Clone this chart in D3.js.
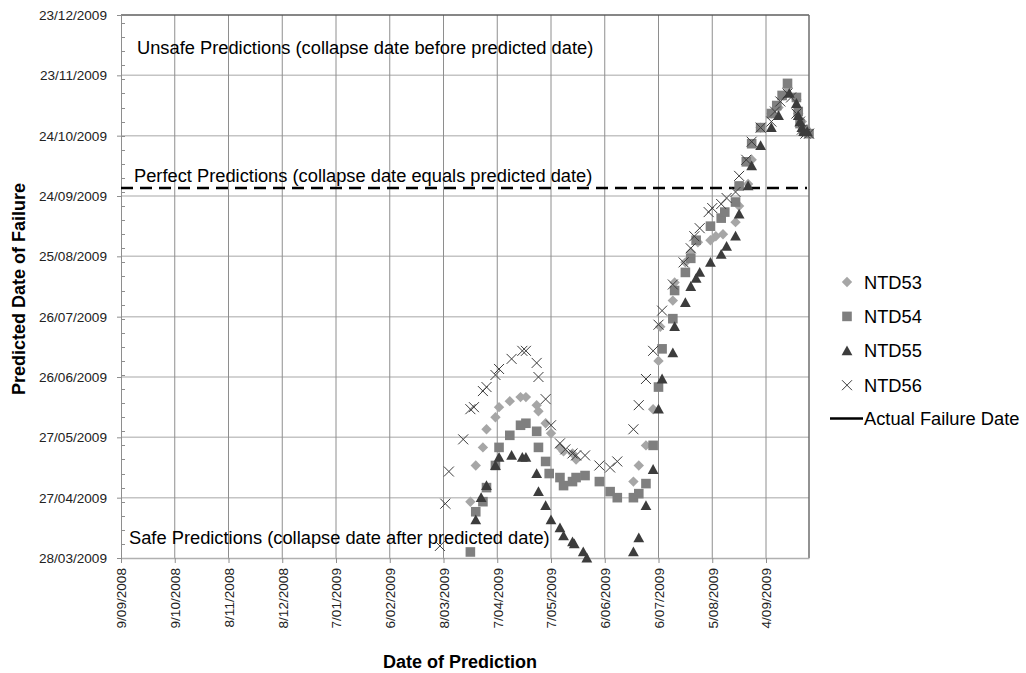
<!DOCTYPE html>
<html>
<head>
<meta charset="utf-8">
<script src="https://cdn.jsdelivr.net/npm/d3@7"></script>
<style>
  body { margin: 0; background: #fff; }
  text { font-family: "Liberation Sans", Arial, sans-serif; }
</style>
</head>
<body>
<svg id="chart" width="1026" height="673"></svg>
<script>
// Axis tick labels (Excel-style date axis, 30-day major unit)
const xTickLabels = ["9/09/2008","9/10/2008","8/11/2008","8/12/2008","7/01/2009","6/02/2009",
  "8/03/2009","7/04/2009","7/05/2009","6/06/2009","6/07/2009","5/08/2009","4/09/2009"];
const yTickLabels = ["28/03/2009","27/04/2009","27/05/2009","26/06/2009","26/07/2009",
  "25/08/2009","24/09/2009","24/10/2009","23/11/2009","23/12/2009"];
const xAxisEnd = "28/09/2009";
const actualFailureDate = "28/09/2009";

// [date of prediction, predicted date of failure]
const ntd53 = [
  ["2009-03-23","2009-04-25"],["2009-03-26","2009-05-13"],["2009-03-30","2009-05-22"],
  ["2009-04-01","2009-05-31"],["2009-04-06","2009-06-06"],["2009-04-08","2009-06-11"],
  ["2009-04-14","2009-06-14"],["2009-04-20","2009-06-16"],["2009-04-23","2009-06-16"],
  ["2009-04-29","2009-06-12"],["2009-04-30","2009-06-09"],["2009-05-04","2009-06-03"],
  ["2009-05-07","2009-05-29"],["2009-05-12","2009-05-22"],["2009-05-14","2009-05-20"],
  ["2009-05-19","2009-05-19"],["2009-05-21","2009-05-16"],["2009-06-22","2009-05-05"],
  ["2009-06-25","2009-05-13"],["2009-06-29","2009-05-23"],["2009-07-03","2009-06-10"],
  ["2009-07-06","2009-07-04"],["2009-07-07","2009-07-21"],["2009-07-14","2009-08-03"],
  ["2009-07-15","2009-08-12"],["2009-07-21","2009-08-22"],["2009-07-24","2009-08-27"],
  ["2009-07-28","2009-09-01"],["2009-08-04","2009-09-02"],["2009-08-07","2009-09-04"],
  ["2009-08-11","2009-09-05"],["2009-08-18","2009-09-11"],["2009-08-20","2009-09-19"],
  ["2009-08-25","2009-09-30"],["2009-08-27","2009-10-12"],["2009-09-01","2009-10-28"],
  ["2009-09-07","2009-11-04"],["2009-09-11","2009-11-07"],["2009-09-14","2009-11-13"],
  ["2009-09-16","2009-11-17"],["2009-09-21","2009-11-11"],["2009-09-22","2009-11-04"],
  ["2009-09-24","2009-10-31"],["2009-09-25","2009-10-27"],["2009-09-26","2009-10-26"]
];
const ntd54 = [
  ["2009-03-23","2009-03-31"],["2009-03-26","2009-04-20"],["2009-03-30","2009-04-25"],
  ["2009-04-01","2009-05-02"],["2009-04-06","2009-05-13"],["2009-04-08","2009-05-22"],
  ["2009-04-14","2009-05-28"],["2009-04-20","2009-06-02"],["2009-04-23","2009-06-03"],
  ["2009-04-29","2009-05-30"],["2009-04-30","2009-05-22"],["2009-05-04","2009-05-15"],
  ["2009-05-06","2009-05-09"],["2009-05-12","2009-05-07"],["2009-05-14","2009-05-03"],
  ["2009-05-19","2009-05-05"],["2009-05-21","2009-05-07"],["2009-05-26","2009-05-08"],
  ["2009-06-03","2009-05-05"],["2009-06-09","2009-04-30"],["2009-06-13","2009-04-27"],
  ["2009-06-22","2009-04-27"],["2009-06-25","2009-04-29"],["2009-06-29","2009-05-04"],
  ["2009-07-03","2009-05-23"],["2009-07-06","2009-06-21"],["2009-07-08","2009-07-10"],
  ["2009-07-14","2009-07-25"],["2009-07-15","2009-08-08"],["2009-07-21","2009-08-17"],
  ["2009-07-24","2009-08-24"],["2009-07-27","2009-09-02"],["2009-08-04","2009-09-09"],
  ["2009-08-10","2009-09-13"],["2009-08-12","2009-09-16"],["2009-08-18","2009-09-21"],
  ["2009-08-20","2009-09-29"],["2009-08-24","2009-10-11"],["2009-08-27","2009-10-20"],
  ["2009-09-01","2009-10-28"],["2009-09-07","2009-11-04"],["2009-09-10","2009-11-08"],
  ["2009-09-13","2009-11-13"],["2009-09-16","2009-11-19"],["2009-09-21","2009-11-12"],
  ["2009-09-22","2009-11-05"],["2009-09-23","2009-10-30"],["2009-09-25","2009-10-27"],
  ["2009-09-26","2009-10-26"],["2009-09-28","2009-10-25"]
];
const ntd55 = [
  ["2009-03-26","2009-04-16"],["2009-03-29","2009-04-27"],["2009-04-01","2009-05-03"],
  ["2009-04-06","2009-05-13"],["2009-04-08","2009-05-17"],["2009-04-15","2009-05-18"],
  ["2009-04-21","2009-05-17"],["2009-04-23","2009-05-17"],["2009-04-29","2009-05-09"],
  ["2009-04-30","2009-04-30"],["2009-05-04","2009-04-23"],["2009-05-07","2009-04-16"],
  ["2009-05-12","2009-04-12"],["2009-05-14","2009-04-08"],["2009-05-19","2009-04-05"],
  ["2009-05-20","2009-04-04"],["2009-05-25","2009-03-31"],["2009-05-27","2009-03-28"],
  ["2009-06-22","2009-03-31"],["2009-06-25","2009-04-07"],["2009-06-29","2009-04-23"],
  ["2009-07-03","2009-05-11"],["2009-07-06","2009-06-10"],["2009-07-08","2009-06-25"],
  ["2009-07-14","2009-07-08"],["2009-07-15","2009-07-21"],["2009-07-21","2009-08-02"],
  ["2009-07-24","2009-08-10"],["2009-07-27","2009-08-14"],["2009-07-29","2009-08-17"],
  ["2009-08-04","2009-08-22"],["2009-08-10","2009-08-26"],["2009-08-13","2009-08-30"],
  ["2009-08-18","2009-09-04"],["2009-08-20","2009-09-15"],["2009-08-25","2009-09-29"],
  ["2009-08-27","2009-10-09"],["2009-09-01","2009-10-19"],["2009-09-07","2009-10-28"],
  ["2009-09-11","2009-11-03"],["2009-09-17","2009-11-14"],["2009-09-21","2009-11-09"],
  ["2009-09-22","2009-11-03"],["2009-09-23","2009-10-31"],["2009-09-24","2009-10-28"],
  ["2009-09-25","2009-10-26"],["2009-09-27","2009-10-26"]
];
const ntd56 = [
  ["2009-03-06","2009-04-03"],["2009-03-09","2009-04-24"],["2009-03-11","2009-05-10"],
  ["2009-03-19","2009-05-26"],["2009-03-23","2009-06-10"],["2009-03-25","2009-06-11"],
  ["2009-03-30","2009-06-19"],["2009-04-01","2009-06-21"],["2009-04-06","2009-06-27"],
  ["2009-04-08","2009-06-30"],["2009-04-15","2009-07-05"],["2009-04-21","2009-07-09"],
  ["2009-04-23","2009-07-09"],["2009-04-29","2009-07-03"],["2009-04-30","2009-06-26"],
  ["2009-05-04","2009-06-15"],["2009-05-07","2009-06-02"],["2009-05-12","2009-05-24"],
  ["2009-05-15","2009-05-21"],["2009-05-19","2009-05-19"],["2009-05-21","2009-05-18"],
  ["2009-05-26","2009-05-18"],["2009-06-03","2009-05-13"],["2009-06-09","2009-05-12"],
  ["2009-06-13","2009-05-15"],["2009-06-22","2009-05-31"],["2009-06-25","2009-06-12"],
  ["2009-06-29","2009-06-25"],["2009-07-03","2009-07-09"],["2009-07-06","2009-07-22"],
  ["2009-07-08","2009-07-29"],["2009-07-14","2009-08-11"],["2009-07-20","2009-08-22"],
  ["2009-07-24","2009-08-29"],["2009-07-26","2009-09-04"],["2009-07-29","2009-09-08"],
  ["2009-08-03","2009-09-16"],["2009-08-05","2009-09-18"],["2009-08-10","2009-09-20"],
  ["2009-08-13","2009-09-23"],["2009-08-18","2009-09-26"],["2009-08-20","2009-10-04"],
  ["2009-08-24","2009-10-12"],["2009-08-27","2009-10-21"],["2009-09-01","2009-10-28"],
  ["2009-09-07","2009-10-31"],["2009-09-09","2009-11-05"],["2009-09-12","2009-11-10"],
  ["2009-09-16","2009-11-14"],["2009-09-18","2009-11-12"],["2009-09-21","2009-11-04"],
  ["2009-09-23","2009-10-31"],["2009-09-24","2009-10-27"],["2009-09-26","2009-10-25"],
  ["2009-09-28","2009-10-25"]
];

const parseDmy = d3.utcParse("%d/%m/%Y");
const parseIso = d3.utcParse("%Y-%m-%d");

const plot = { left: 121, right: 809, top: 15, bottom: 558 };

const xTicks = xTickLabels.map(parseDmy);
const yTicks = yTickLabels.map(parseDmy);

const x = d3.scaleUtc()
  .domain([xTicks[0], parseDmy(xAxisEnd)])
  .range([plot.left, plot.right]);
const y = d3.scaleUtc()
  .domain([yTicks[0], yTicks[yTicks.length - 1]])
  .range([plot.bottom, plot.top]);

const svg = d3.select("#chart");
svg.append("rect").attr("width", 1026).attr("height", 673).attr("fill", "#fff");

// Horizontal gridlines
svg.append("g").selectAll("line").data(yTicks.slice(1)).join("line")
  .attr("x1", plot.left).attr("x2", plot.right)
  .attr("y1", d => y(d)).attr("y2", d => y(d))
  .attr("stroke", "#c4c4c4").attr("stroke-width", 1.5);

// Vertical gridlines
svg.append("g").selectAll("line").data(xTicks.slice(1)).join("line")
  .attr("x1", d => x(d)).attr("x2", d => x(d))
  .attr("y1", plot.top).attr("y2", plot.bottom)
  .attr("stroke", "#8e8e8e").attr("stroke-width", 1);

// Plot frame: top and right edges
svg.append("line").attr("x1", plot.left).attr("x2", plot.right)
  .attr("y1", plot.top).attr("y2", plot.top)
  .attr("stroke", "#3a3a3a").attr("stroke-width", 1);
svg.append("line").attr("x1", plot.right).attr("x2", plot.right)
  .attr("y1", plot.top).attr("y2", plot.bottom)
  .attr("stroke", "#6e6e6e").attr("stroke-width", 1.5);

// Y axis: major ticks outside, weekly minor ticks inside
const yAxis = d3.axisLeft(y).tickValues(yTicks)
  .tickFormat((d, i) => yTickLabels[i]).tickSize(4).tickPadding(10);
const gy = svg.append("g").attr("transform", `translate(${plot.left},0)`).call(yAxis);
gy.select(".domain").attr("stroke", "#8e8e8e");
gy.selectAll(".tick line").attr("stroke", "#8e8e8e");
gy.selectAll(".tick text").attr("fill", "#222")
  .style("font-family", '"Liberation Sans", Arial, sans-serif').style("font-size", "13.6px");

const yMinor = d3.range(0, 271, 7).map(k => d3.utcDay.offset(yTicks[0], k));
svg.append("g").selectAll("line").data(yMinor).join("line")
  .attr("x1", plot.left).attr("x2", plot.left + 4)
  .attr("y1", d => Math.round(y(d)) + 0.5).attr("y2", d => Math.round(y(d)) + 0.5)
  .attr("stroke", "#8e8e8e");

// X axis with vertical tick labels
const xAxis = d3.axisBottom(x).tickValues(xTicks)
  .tickFormat((d, i) => xTickLabels[i]).tickSize(5).tickSizeOuter(0);
const gx = svg.append("g").attr("transform", `translate(0,${plot.bottom})`).call(xAxis);
gx.select(".domain").attr("stroke", "#b0b0b0").attr("stroke-width", 1.5);
gx.selectAll(".tick line").attr("stroke", "#8e8e8e");
gx.selectAll(".tick text")
  .attr("fill", "#222")
  .style("font-family", '"Liberation Sans", Arial, sans-serif').style("font-size", "13.6px")
  .attr("text-anchor", "end")
  .attr("transform", "rotate(-90)")
  .attr("x", -10).attr("y", 0).attr("dy", "0.35em");

// Actual failure date (dashed)
svg.append("line")
  .attr("x1", x(xTicks[0])).attr("x2", x(parseDmy(xAxisEnd)) - 2)
  .attr("y1", y(parseDmy(actualFailureDate))).attr("y2", y(parseDmy(actualFailureDate)))
  .attr("stroke", "#000").attr("stroke-width", 2.6).attr("stroke-dasharray", "12,7");

// Region annotations
const notes = [
  { text: "Unsafe Predictions (collapse date before predicted date)", x: 137, y: 54 },
  { text: "Perfect Predictions (collapse date equals predicted date)", x: 134, y: 182 },
  { text: "Safe Predictions (collapse date after predicted date)", x: 129, y: 544 }
];
svg.append("g").selectAll("text").data(notes).join("text")
  .attr("x", d => d.x).attr("y", d => d.y)
  .attr("font-size", 18.3).attr("fill", "#000")
  .text(d => d.text);

// Marker shapes
const shapes = {
  diamond: "M0,-5.2L5.2,0L0,5.2L-5.2,0Z",
  square: "M-4.8,-4.8H4.8V4.8H-4.8Z",
  triangle: "M0,-5.4L5.4,4.4L-5.4,4.4Z",
  cross: "M-5,-5L5,5M-5,5L5,-5"
};

const series = [
  { name: "NTD53", data: ntd53, shape: "diamond", fill: "#a6a6a6" },
  { name: "NTD54", data: ntd54, shape: "square", fill: "#7f7f7f" },
  { name: "NTD55", data: ntd55, shape: "triangle", fill: "#3c3c3c" },
  { name: "NTD56", data: ntd56, shape: "cross", stroke: "#3c3c3c" }
];

function styleMarker(sel, s) {
  sel.attr("d", shapes[s.shape]);
  if (s.stroke) sel.attr("fill", "none").attr("stroke", s.stroke).attr("stroke-width", 1);
  else sel.attr("fill", s.fill).attr("stroke", "none");
}

series.forEach(s => {
  svg.append("g").selectAll("path").data(s.data).join("path")
    .attr("transform", d => `translate(${x(parseIso(d[0]))},${y(parseIso(d[1]))})`)
    .call(styleMarker, s);
});

// Legend
const legend = svg.append("g");
series.forEach((s, i) => {
  const cy = 282 + i * 34.4;
  legend.append("path").attr("transform", `translate(847,${cy})`).call(styleMarker, s);
  legend.append("text").attr("x", 864).attr("y", cy + 6.5)
    .attr("font-size", 18.3).attr("fill", "#000").text(s.name);
});
legend.append("line").attr("x1", 830).attr("x2", 863).attr("y1", 418.5).attr("y2", 418.5)
  .attr("stroke", "#000").attr("stroke-width", 2.5);
legend.append("text").attr("x", 864).attr("y", 425).attr("font-size", 18.3)
  .attr("fill", "#000").text("Actual Failure Date");

// Axis titles
svg.append("text")
  .attr("transform", "translate(25,289) rotate(-90)")
  .attr("text-anchor", "middle").attr("font-size", 18).attr("font-weight", "bold")
  .attr("fill", "#000").text("Predicted Date of Failure");
svg.append("text")
  .attr("x", 460).attr("y", 668)
  .attr("text-anchor", "middle").attr("font-size", 18).attr("font-weight", "bold")
  .attr("fill", "#000").text("Date of Prediction");
</script>
</body>
</html>
